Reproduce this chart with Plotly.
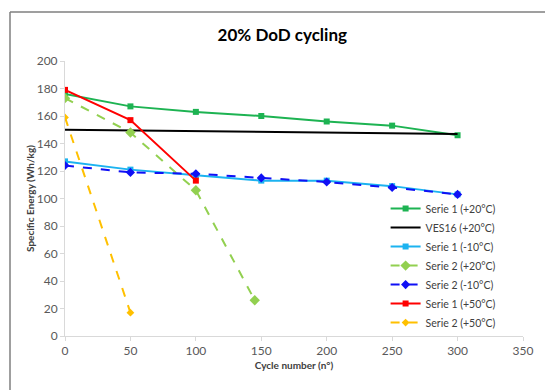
import plotly.graph_objects as go

cycles_full = [0, 50, 100, 150, 200, 250, 300]
s1_p20 = [176, 167, 163, 160, 156, 153, 146]
ves16_x = [0, 300]
ves16_y = [150, 147]
s1_m10 = [127, 121, 117, 113, 113, 109, 103]
s2_p20_x = [0, 50, 100, 145]
s2_p20 = [173, 148, 106, 26]
s2_m10 = [124, 119, 118, 115, 112, 108, 103]
s1_p50_x = [0, 50, 100]
s1_p50 = [179, 157, 113]
s2_p50_x = [0, 50]
s2_p50 = [159, 17]

series = [
    ("Serie 1 (+20°C)", cycles_full, s1_p20, "#1DB352", "solid", "square", 6),
    ("VES16 (+20°C)", ves16_x, ves16_y, "#000000", "solid", None, 0),
    ("Serie 1 (-10°C)", cycles_full, s1_m10, "#1CB3F0", "solid", "square", 6),
    ("Serie 2 (+20°C)", s2_p20_x, s2_p20, "#92D050", "dash", "diamond", 8),
    ("Serie 2 (-10°C)", cycles_full, s2_m10, "#1010F5", "dash", "diamond", 7),
    ("Serie 1 (+50°C)", s1_p50_x, s1_p50, "#FF0000", "solid", "square", 6),
    ("Serie 2 (+50°C)", s2_p50_x, s2_p50, "#FFC000", "dash", "diamond", 6),
]

fig = go.Figure()
for name, x, y, color, dash, sym, size in series:
    if sym is None:
        fig.add_trace(go.Scatter(x=x, y=y, name=name, mode="lines",
                                 line=dict(color=color, width=2, dash=dash)))
    else:
        fig.add_trace(go.Scatter(x=x, y=y, name=name, mode="lines+markers",
                                 line=dict(color=color, width=2, dash=dash),
                                 marker=dict(symbol=sym, size=size, color=color)))

axis_common = dict(showgrid=False, zeroline=False, showline=True, linecolor="#D9D9D9",
                   linewidth=1, ticks="outside", tickcolor="#D9D9D9", ticklen=4,
                   tickfont=dict(size=12, color="#595959"))

fig.update_layout(
    width=553, height=390,
    margin=dict(l=57, r=38, t=53, b=62),
    paper_bgcolor="white", plot_bgcolor="white",
    font=dict(family="Lato, Liberation Sans, sans-serif", color="#595959"),
    title=dict(text="<b>20% DoD cycling</b>", x=0.496, xanchor="center", y=0.93, yanchor="middle",
               font=dict(size=17, color="#000000")),
    xaxis=dict(range=[0, 350], dtick=50, title=dict(text="<b>Cycle number (n°)</b>",
               font=dict(size=10, color="#404040"), standoff=4), **axis_common),
    yaxis=dict(range=[0, 200], dtick=20, title=dict(text="<b>Specific Energy (Wh/kg)</b>",
               font=dict(size=10, color="#404040"), standoff=0), **axis_common),
    legend=dict(x=0.70, y=0.516, xanchor="left", yanchor="top", bgcolor="rgba(0,0,0,0)",
                font=dict(size=10.5, color="#404040"), tracegroupgap=0, itemwidth=30),
    showlegend=True,
)

# outer frame lines (top and left) of the original screenshot
fx = -55 / 458
fy = 1 + 49 / 275
fig.add_shape(type="line", xref="paper", yref="paper", x0=fx, x1=1.2, y0=fy, y1=fy,
              line=dict(color="#7F7F7F", width=1.5), layer="above")
fig.add_shape(type="line", xref="paper", yref="paper", x0=fx, x1=fx, y0=fy, y1=-0.3,
              line=dict(color="#7F7F7F", width=1.5), layer="above")

fig.write_html("out.html")
